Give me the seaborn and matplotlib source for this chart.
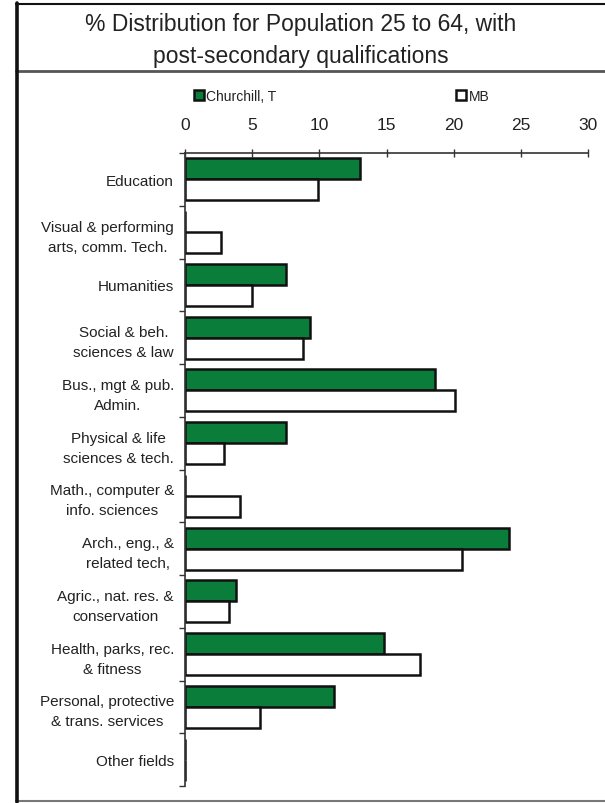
import matplotlib
matplotlib.use("Agg")
import matplotlib.pyplot as plt
import seaborn as sns
import pandas as pd
from matplotlib.lines import Line2D

# Fields of study (post-secondary qualifications)
fields = [
    "Education",
    "Visual & performing\narts, comm. Tech.",
    "Humanities",
    "Social & beh.\nsciences & law",
    "Bus., mgt & pub.\nAdmin.",
    "Physical & life\nsciences & tech.",
    "Math., computer &\ninfo. sciences",
    "Arch., eng., &\nrelated tech,",
    "Agric., nat. res. &\nconservation",
    "Health, parks, rec.\n& fitness",
    "Personal, protective\n& trans. services",
    "Other fields",
]

# % of population aged 25 to 64
churchill = [13.0, 0.0, 7.5, 9.3, 18.6, 7.5, 0.0, 24.1, 3.8, 14.8, 11.1, 0.0]
manitoba = [9.9, 2.7, 5.0, 8.8, 20.1, 2.9, 4.1, 20.6, 3.3, 17.5, 5.6, 0.0]

series_names = ["Churchill, T", "MB"]
x_ticks = [0, 5, 10, 15, 20, 25, 30]

df = pd.concat([
    pd.DataFrame({"field": fields, "pct": churchill, "area": series_names[0]}),
    pd.DataFrame({"field": fields, "pct": manitoba, "area": series_names[1]}),
])

sns.set_theme(style="white")
plt.rcParams["font.family"] = ["Liberation Sans", "DejaVu Sans"]
text_col = "#222222"

W, H = 605, 804
fig = plt.figure(figsize=(W / 100, H / 100), dpi=100)
ax = fig.add_axes([185 / W, 1 - 787 / H, (588 - 185) / W, (787 - 154) / H])

sns.barplot(
    data=df, x="pct", y="field", hue="area", order=fields,
    hue_order=series_names, palette=["#0b7d3b", "#ffffff"], saturation=1,
    orient="h", width=0.8, edgecolor="#111111", linewidth=1.8,
    ax=ax, legend=True,
)

ax.set_xlim(0, 30)
ax.set_ylim(len(fields) - 0.5, -0.5)
ax.set_xlabel("")
ax.set_ylabel("")

# value axis along the top
ax.xaxis.set_ticks_position("top")
ax.xaxis.set_label_position("top")
ax.set_xticks(x_ticks)
ax.set_xticklabels([str(t) for t in x_ticks])
ax.tick_params(axis="x", which="major", direction="inout", length=6, width=1,
               color="#333333", pad=12, labelsize=12.5, labelcolor=text_col,
               top=True, bottom=False)

# category labels with boundary ticks between groups
ax.tick_params(axis="y", which="major", length=0, pad=8, labelsize=11,
               labelcolor=text_col)
for lbl in ax.get_yticklabels():
    lbl.set_multialignment("center")
    lbl.set_linespacing(1.55)
ax.set_yticks([i + 0.5 for i in range(-1, len(fields))], minor=True)
ax.tick_params(axis="y", which="minor", direction="out", length=4, width=1,
               color="#333333", left=True)

for side in ["right", "bottom"]:
    ax.spines[side].set_visible(False)
for side in ["top", "left"]:
    ax.spines[side].set_color("#333333")
    ax.spines[side].set_linewidth(1.2)

sns.move_legend(
    ax, "center left", bbox_to_anchor=(194 / W, 1 - 97 / H),
    bbox_transform=fig.transFigure, ncol=2, frameon=False, title=None,
    fontsize=10, handlelength=0.7, handleheight=0.7, handletextpad=0.2,
    columnspacing=12.9, borderaxespad=0, borderpad=0,
)
for t in ax.get_legend().get_texts():
    t.set_color(text_col)

# title
fig.text(301 / W, 1 - 25 / H, "% Distribution for Population 25 to 64, with",
         ha="center", va="center", fontsize=16.5, color=text_col)
fig.text(301 / W, 1 - 57 / H, "post-secondary qualifications",
         ha="center", va="center", fontsize=16.5, color=text_col)

# outer frame and title divider
def hline(y, x0, x1, lw, col):
    fig.add_artist(Line2D([x0 / W, x1 / W], [1 - y / H, 1 - y / H],
                          transform=fig.transFigure, lw=lw, color=col))

hline(5, 16, W, 1.5, "#111111")
hline(72, 16, W, 2.0, "#555555")
hline(802, 16, W, 1.5, "#777777")
fig.add_artist(Line2D([17 / W, 17 / W], [1 - 4 / H, 1 - 803 / H],
                      transform=fig.transFigure, lw=2.6, color="#111111"))

fig.savefig("out.png", dpi=100)
